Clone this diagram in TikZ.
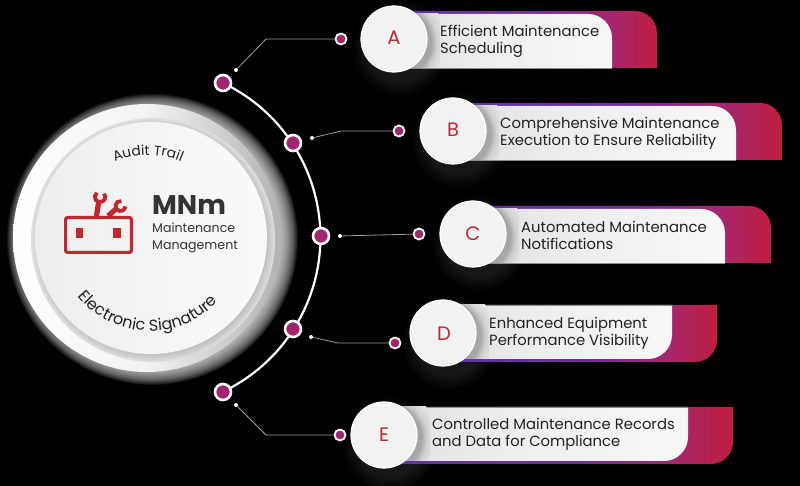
\documentclass[tikz,border=0pt]{standalone}
\usepackage{fontspec}
\setmainfont{Poppins}
\usetikzlibrary{decorations.text}
\definecolor{brandred}{HTML}{C4262E}
\definecolor{magentadot}{HTML}{A5246F}
\definecolor{inktext}{HTML}{222222}
\pgfdeclarehorizontalshading{cardgrad}{100bp}{rgb(0bp)=(0.38,0.20,0.66); rgb(25bp)=(0.38,0.20,0.66); rgb(52bp)=(0.45,0.18,0.62); rgb(66bp)=(0.65,0.15,0.44); rgb(75bp)=(0.75,0.12,0.25); rgb(100bp)=(0.75,0.12,0.25)}
\pgfdeclarehorizontalshading{panelgrad}{100bp}{rgb(0bp)=(0.88,0.88,0.88); rgb(25bp)=(0.88,0.88,0.88); rgb(45bp)=(0.93,0.93,0.93); rgb(75bp)=(0.97,0.97,0.97); rgb(100bp)=(0.97,0.97,0.97)}
\pgfdeclareradialshading{outerhalo}{\pgfpoint{0bp}{0bp}}{rgb(0bp)=(0.72,0.72,0.72); rgb(22bp)=(0.72,0.72,0.72); rgb(23bp)=(0.58,0.58,0.58); rgb(24bp)=(0.38,0.38,0.38); rgb(24.6bp)=(0.18,0.18,0.18); rgb(25bp)=(0,0,0); rgb(50bp)=(0,0,0)}
\pgfdeclareradialshading{innerhalo}{\pgfpoint{0bp}{0bp}}{rgb(0bp)=(0.74,0.74,0.74); rgb(23bp)=(0.74,0.74,0.74); rgb(24bp)=(0.8,0.8,0.8); rgb(25bp)=(0.88,0.88,0.88); rgb(50bp)=(0.88,0.88,0.88)}
\pgfdeclareradialshading{disccard}{\pgfpoint{0bp}{0bp}}{rgb(0bp)=(0.65,0.65,0.65); rgb(17bp)=(0.65,0.65,0.65); rgb(20bp)=(0.82,0.82,0.82); rgb(25bp)=(0.9,0.9,0.9); rgb(50bp)=(0.9,0.9,0.9)}
\pgfdeclareradialshading{discdark}{\pgfpoint{0bp}{0bp}}{rgb(0bp)=(0.09,0.09,0.09); rgb(17bp)=(0.09,0.09,0.09); rgb(25bp)=(0,0,0); rgb(50bp)=(0,0,0)}
\tikzset{
  textlabel/.style={anchor=west,align=left,inner sep=0pt,text=inktext,font=\fontsize{14.8}{16.8}\selectfont},
  letterlabel/.style={inner sep=0pt,text=brandred,font=\fontsize{19.5}{22}\selectfont},
  maindot/.style={circle,draw=white,line width=2.6pt,fill=magentadot,minimum size=16pt,inner sep=0pt},
  enddot/.style={circle,draw=white,line width=1.8pt,fill=magentadot,minimum size=11pt,inner sep=0pt},
  tipdot/.style={circle,fill=white,minimum size=4pt,inner sep=0pt},
  leader/.style={draw=white!62!black,line width=0.8pt},
  mainarc/.style={draw=white,line width=2.2pt},
  wrench/.style={draw=brandred,line width=3.8pt},
  wrenchstem/.style={draw=brandred,line width=5.2pt},
  icon/.style={draw=brandred,line width=3.2pt,rounded corners=2pt},
  disc/.style={circle,inner sep=0pt,minimum size=66pt,draw=white,line width=1.2pt,fill=black!5}
}
% #1 disc x, #2 disc y, #3 outer top, #4 outer bottom, #5 right, #6 panel right
\newcommand{\cardtop}[6]{
  \shade[shading=cardgrad] (#1,#4) -- (#1,#3) -- ({#5-22},#3) arc (90:0:22) -- (#5,#4) -- cycle;
  \shade[shading=panelgrad] (#1,#4) -- (#1,{#3-3}) -- ({#6-24},{#3-3}) arc (90:0:24) -- (#6,#4) -- cycle;
  \draw[black!45,line width=0.6pt] (#1,#4) -- (#6,#4);
  \begin{scope}
    \clip (#1,#4) rectangle ({#1+46},{#3-3});
    \shade[shading=disccard] ({#1+3},{#2-3}) circle[radius=50];
  \end{scope}
}
\newcommand{\cardbottom}[6]{
  \shade[shading=cardgrad] (#1,#3) -- (#1,#4) -- ({#5-22},#4) arc (-90:0:22) -- (#5,#3) -- cycle;
  \shade[shading=panelgrad] (#1,#3) -- (#1,{#4+3}) -- ({#6-24},{#4+3}) arc (-90:0:24) -- (#6,#3) -- cycle;
  \draw[black!45,line width=0.6pt] (#1,#3) -- (#6,#3);
  \begin{scope}
    \clip (#1,{#4+3}) rectangle ({#1+46},#3);
    \shade[shading=disccard] ({#1+3},{#2-3}) circle[radius=50];
  \end{scope}
}
\begin{document}
\begin{tikzpicture}[x=1pt,y=1pt]
\fill[black] (0,0) rectangle (800,486);
\useasboundingbox (0,0) rectangle (800,486);

% central disc
\shade[shading=outerhalo] (152,247) circle[radius=146];
\shade[left color=white,right color=black!30,middle color=black!5] (147,248) circle[radius=134];
\shade[shading=innerhalo] (153,246) circle[radius=122];
\shade[left color=black!7,right color=black!2] (151,248) circle[radius=116];

% curved labels
\path[decorate,decoration={text along path,text align=center,
  text={|\fontsize{13.8}{15}\selectfont\color{inktext}|Audit Trail}}]
  (148,248) ++(150:83) arc (150:30:83);
\path[decorate,decoration={text along path,text align=center,
  text={|\fontsize{16}{17}\selectfont\color{inktext}|Electronic Signature}}]
  (150,248) ++(196:93) arc (196:340:93);

% icon
\draw[icon] (65.6,233.6) rectangle (131.4,268.4);
\fill[brandred] (76,248) rectangle (83,258);
\fill[brandred] (113,248) rectangle (121,258);
\draw[wrenchstem] (96.5,270) -- (98.5,283);
\draw[wrench] (100,289) ++(125:5.2) arc (125:400:5.2);
\draw[wrenchstem] (108,270) -- (116,277);
\draw[wrench] (120.5,280) ++(80:5) arc (80:355:5);

\node[anchor=base west,inner sep=0pt,text=black!80,font=\fontsize{27}{30}\selectfont\bfseries] (brand) at (152,271) {MNm};
\node[anchor=base west,inner sep=0pt,text=black!80,align=left,font=\fontsize{12.6}{16.5}\selectfont] (brandsub) at (152,253) {Maintenance};
\node[anchor=base west,inner sep=0pt,text=black!80,align=left,font=\fontsize{12.6}{16.5}\selectfont] (brandsub2) at (152,236) {Management};

% big arc
\coordinate (arcstart) at (223,403);
\draw[mainarc] (arcstart) arc (64.5:-64.5:171);

% disc shadows on black
\foreach \cx/\cy in {394/447,453/355,473/252,443/153,384/51}
  \shade[shading=discdark] ({\cx+6},{\cy-9}) circle[radius=48];

% cards
\cardtop{394}{447}{475}{418}{657}{612}
\cardtop{453}{355}{383}{326}{782}{736}
\cardtop{473}{252}{280}{223}{771}{725}
\cardbottom{443}{153}{181}{124}{717}{672}
\cardbottom{384}{51}{79}{22}{733}{688}

% discs with letters
\node[disc] (dA) at (394,447) {}; \node[letterlabel] (lA) at (394,448) {A};
\node[disc] (dB) at (453,355) {}; \node[letterlabel] (lB) at (453,356) {B};
\node[disc] (dC) at (473,252) {}; \node[letterlabel] (lC) at (473,252) {C};
\node[disc] (dD) at (443,153) {}; \node[letterlabel] (lD) at (444,152) {D};
\node[disc] (dE) at (384,51)  {}; \node[letterlabel] (lE) at (384,51)  {E};

% card texts
\node[textlabel] (tA) at (440,445) {Efficient Maintenance\\Scheduling};
\node[textlabel] (tB) at (500,353) {Comprehensive Maintenance\\Execution to Ensure Reliability};
\node[textlabel] (tC) at (521,250.5) {Automated Maintenance\\Notifications};
\node[textlabel] (tD) at (489,153) {Enhanced Equipment\\Performance Visibility};
\node[textlabel] (tE) at (432,52)  {Controlled Maintenance Records\\and Data for Compliance};

% arc dots
\node[maindot] (m1) at (223,403) {};
\node[maindot] (m2) at (293,343) {};
\node[maindot] (m3) at (321,250) {};
\node[maindot] (m4) at (293,157) {};
\node[maindot] (m5) at (223,94) {};

% leaders
\node[enddot] (e1) at (341,447) {};
\node[enddot] (e2) at (399,355) {};
\node[enddot] (e3) at (419,252) {};
\node[enddot] (e4) at (395,143) {};
\node[enddot] (e5) at (340,51) {};
\node[tipdot] (s1) at (236,416) {};
\node[tipdot] (s2) at (312,348) {};
\node[tipdot] (s3) at (340,250) {};
\node[tipdot] (s4) at (311,149) {};
\node[tipdot] (s5) at (236,81) {};
\coordinate (b1) at (266,447);
\coordinate (b2) at (341,355);
\coordinate (b4) at (338,143);
\coordinate (b5) at (266,51);
\draw[leader] (e1) -- (b1) -- (s1);
\draw[leader] (e2) -- (b2) -- (s2);
\draw[leader] (e3) -- (s3);
\draw[leader] (e4) -- (b4) -- (s4);
\draw[leader] (e5) -- (b5) -- (s5);
\end{tikzpicture}
\end{document}
